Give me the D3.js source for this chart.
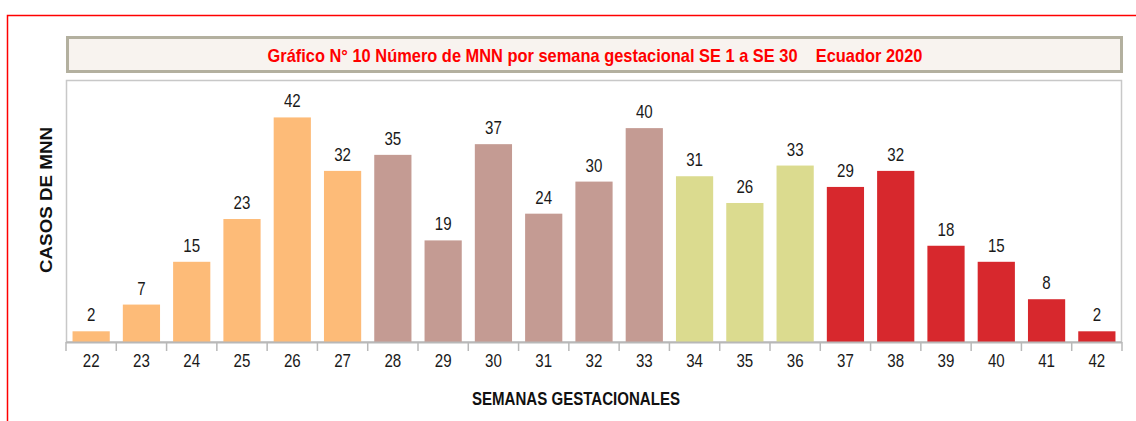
<!DOCTYPE html>
<html>
<head>
<meta charset="utf-8">
<script src="https://cdn.jsdelivr.net/npm/d3@7"></script>
<style>
body { margin:0; background:#fff; }
svg { display:block; }
text { font-family: "Liberation Sans", Arial, sans-serif; }
</style>
</head>
<body>
<svg id="chart" width="1136" height="421"></svg>
<script>
const weeks = ["22","23","24","25","26","27","28","29","30","31","32","33","34","35","36","37","38","39","40","41","42"];
const cases = [2,7,15,23,42,32,35,19,37,24,30,40,31,26,33,29,32,18,15,8,2];
const groups = ["a","a","a","a","a","a","b","b","b","b","b","b","c","c","c","d","d","d","d","d","d"];
const groupColors = {a:"#fdbb78", b:"#c49b93", c:"#dbdb8f", d:"#d7282d"};
const title = "Gráfico N° 10 Número de MNN por semana gestacional SE 1 a SE 30    Ecuador 2020";
const xTitle = "SEMANAS GESTACIONALES";
const yTitle = "CASOS DE MNN";

const svg = d3.select("#chart");
const narrow = 0.84;

// outer red frame
svg.append("path").attr("d","M7.5,421 L7.5,15.5 L1136,15.5")
  .attr("fill","none").attr("stroke","#ff0000").attr("stroke-width",1.5);

// title box
svg.append("rect").attr("x",67.5).attr("y",37.5).attr("width",1054).attr("height",34)
  .attr("fill","#f8f3ef").attr("stroke","#b3b09f").attr("stroke-width",3);
svg.append("text").attr("x",595).attr("y",62).attr("text-anchor","middle")
  .attr("fill","#ff0000").attr("font-weight","bold").attr("font-size",19)
  .attr("textLength",655).attr("lengthAdjust","spacingAndGlyphs")
  .style("white-space","pre").text(title);

const pLeft = 66, pRight = 1122, pTop = 80, pBase = 342;

// plot border
svg.append("rect").attr("x",pLeft+0.5).attr("y",pTop+0.5).attr("width",pRight-pLeft-1).attr("height",pBase-pTop-0.5)
  .attr("fill","#fff").attr("stroke","#c8c8c8").attr("stroke-width",1.5);

const x = d3.scaleBand().domain(weeks).range([pLeft,pRight]).paddingInner(0.26).paddingOuter(0.13);
const y = d3.scaleLinear().domain([0,49]).range([pBase,pTop]);

svg.selectAll("rect.bar").data(weeks).join("rect").attr("class","bar")
  .attr("x",d=>x(d)).attr("width",x.bandwidth())
  .attr("y",(d,i)=>y(cases[i])).attr("height",(d,i)=>pBase-y(cases[i]))
  .attr("fill",(d,i)=>groupColors[groups[i]]);

svg.selectAll("text.val").data(weeks).join("text").attr("class","val")
  .attr("transform",(d,i)=>`translate(${x(d)+x.bandwidth()/2},${y(cases[i])-10}) scale(${narrow},1)`)
  .attr("text-anchor","middle").attr("font-size",18).attr("fill","#1a1a1a")
  .text((d,i)=>cases[i]);

// x axis
const step = x.step();
const boundaries = d3.range(weeks.length+1).map(i=>pLeft+i*step);
svg.append("line").attr("x1",pLeft).attr("x2",pRight).attr("y1",pBase+0.5).attr("y2",pBase+0.5)
  .attr("stroke","#b8b8b8").attr("stroke-width",2);
svg.selectAll("line.tick").data(boundaries).join("line").attr("class","tick")
  .attr("x1",d=>d).attr("x2",d=>d).attr("y1",pBase).attr("y2",pBase+9)
  .attr("stroke","#b8b8b8").attr("stroke-width",1.5);
svg.selectAll("text.tl").data(weeks).join("text").attr("class","tl")
  .attr("transform",d=>`translate(${x(d)+x.bandwidth()/2},367) scale(${narrow},1)`)
  .attr("text-anchor","middle").attr("font-size",18).attr("fill","#1a1a1a").text(d=>d);

svg.append("text").attr("x",576).attr("y",405).attr("text-anchor","middle")
  .attr("font-weight","bold").attr("font-size",18).attr("fill","#111")
  .attr("textLength",208).attr("lengthAdjust","spacingAndGlyphs").text(xTitle);

svg.append("text").attr("transform","translate(52,200) rotate(-90)").attr("text-anchor","middle")
  .attr("font-weight","bold").attr("font-size",17).attr("fill","#111")
  .attr("textLength",146).attr("lengthAdjust","spacingAndGlyphs").text(yTitle);
</script>
</body>
</html>
